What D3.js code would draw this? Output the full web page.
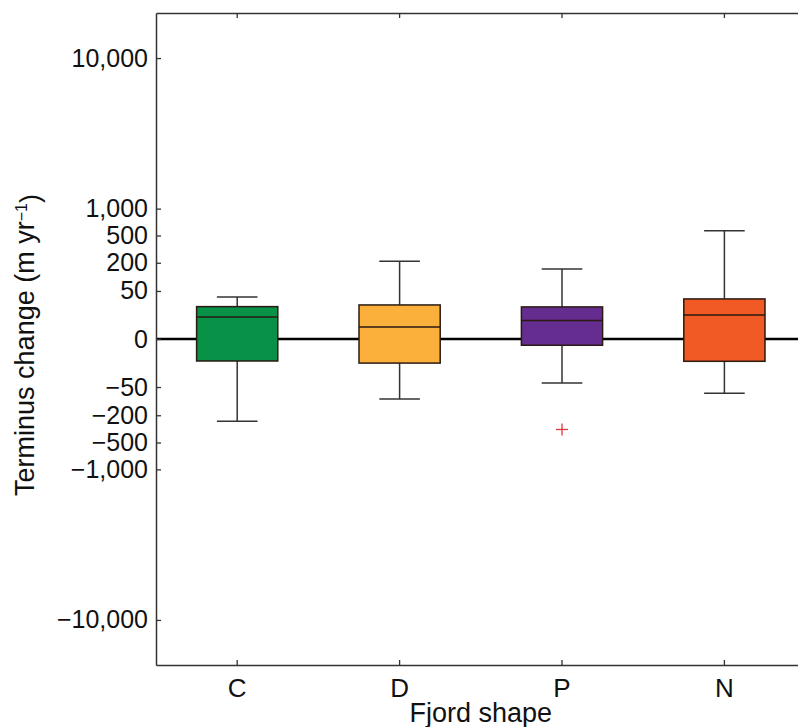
<!DOCTYPE html>
<html>
<head>
<meta charset="utf-8">
<script src="https://cdn.jsdelivr.net/npm/d3@7"></script>
<style>
  html, body { margin: 0; padding: 0; background: #fff; }
  svg { display: block; }
  text { font-family: "Liberation Sans", Arial, Helvetica, sans-serif; fill: #111; }
</style>
</head>
<body>
<svg id="chart" width="798" height="727"></svg>
<script>
// ---- data ----
const categories   = ["C", "D", "P", "N"];
const whiskerLow   = [-252, -98, -38.6, -72.5];
const q1           = [-4.8, -6.3, -0.11, -5.0];
const medians      = [4.8, 0.78, 2.8, 6.3];
const q3           = [15.3, 17.8, 14.9, 29];
const whiskerHigh  = [33.6, 212, 155, 571];
const boxColors    = ["#079247", "#fbb03b", "#662d91", "#f15a24"];
const outlierCats  = ["P"];
const outlierVals  = [-334];
const yTickValues  = [10000, 1000, 500, 200, 50, 0, -50, -200, -500, -1000, -10000];
const yTickLabels  = ["10,000", "1,000", "500", "200", "50", "0", "\u221250", "\u2212200", "\u2212500", "\u22121,000", "\u221210,000"];
const yDomain      = [-15625, 15625];

// ---- layout ----
const svg = d3.select("#chart");
const mLeft = 156, mTop = 13, mBottom = 665, plotW = 649.6;
const mRight = mLeft + plotW;

const x = d3.scaleBand().domain(categories).range([mLeft, mRight]).paddingInner(0).paddingOuter(0);
const y = d3.scalePow().exponent(1 / 3).domain(yDomain).range([mBottom, mTop]);
const cx = c => x(c) + x.bandwidth() / 2;
const boxW = x.bandwidth() * 0.5;
const capW = boxW * 0.5;

const axisColor = "#333";

// zero reference line
svg.append("line")
  .attr("x1", mLeft).attr("x2", mRight)
  .attr("y1", y(0)).attr("y2", y(0))
  .attr("stroke", "#000").attr("stroke-width", 2.5);

// boxes
const rows = categories.map((c, i) => ({
  c, lo: whiskerLow[i], q1: q1[i], med: medians[i], q3: q3[i], hi: whiskerHigh[i], color: boxColors[i]
}));

const g = svg.append("g").selectAll("g").data(rows).join("g");

// whiskers
g.append("line")
  .attr("x1", d => cx(d.c)).attr("x2", d => cx(d.c))
  .attr("y1", d => y(d.q3)).attr("y2", d => y(d.hi))
  .attr("stroke", "#333").attr("stroke-width", 1.5);
g.append("line")
  .attr("x1", d => cx(d.c)).attr("x2", d => cx(d.c))
  .attr("y1", d => y(d.q1)).attr("y2", d => y(d.lo))
  .attr("stroke", "#333").attr("stroke-width", 1.5);
// caps
g.append("line")
  .attr("x1", d => cx(d.c) - capW / 2).attr("x2", d => cx(d.c) + capW / 2)
  .attr("y1", d => y(d.hi)).attr("y2", d => y(d.hi))
  .attr("stroke", "#333").attr("stroke-width", 1.5);
g.append("line")
  .attr("x1", d => cx(d.c) - capW / 2).attr("x2", d => cx(d.c) + capW / 2)
  .attr("y1", d => y(d.lo)).attr("y2", d => y(d.lo))
  .attr("stroke", "#333").attr("stroke-width", 1.5);
// box
g.append("rect")
  .attr("x", d => cx(d.c) - boxW / 2).attr("width", boxW)
  .attr("y", d => y(d.q3)).attr("height", d => y(d.q1) - y(d.q3))
  .attr("fill", d => d.color).attr("stroke", "#2a1a12").attr("stroke-width", 1.5);
// median
g.append("line")
  .attr("x1", d => cx(d.c) - boxW / 2).attr("x2", d => cx(d.c) + boxW / 2)
  .attr("y1", d => y(d.med)).attr("y2", d => y(d.med))
  .attr("stroke", "#2a1a12").attr("stroke-width", 1.5);

// outliers
const outs = outlierCats.map((c, i) => ({ c, v: outlierVals[i] }));
const og = svg.append("g").selectAll("g").data(outs).join("g")
  .attr("transform", d => `translate(${cx(d.c)},${y(d.v)})`);
og.append("line").attr("x1", -6).attr("x2", 6).attr("y1", 0).attr("y2", 0)
  .attr("stroke", "#e0363c").attr("stroke-width", 1.3);
og.append("line").attr("x1", 0).attr("x2", 0).attr("y1", -6).attr("y2", 6)
  .attr("stroke", "#e0363c").attr("stroke-width", 1.3);

// ---- axes ----
const yAxis = d3.axisLeft(y).tickValues(yTickValues)
  .tickFormat((d, i) => yTickLabels[i]).tickSizeInner(-5).tickSizeOuter(0).tickPadding(8);
const gy = svg.append("g").attr("transform", `translate(${mLeft},0)`).call(yAxis);
gy.selectAll("text").style("font-size", "25px").attr("fill", "#111");

const xAxis = d3.axisBottom(x).tickSizeInner(-5).tickSizeOuter(0).tickPadding(14);
const gx = svg.append("g").attr("transform", `translate(0,${mBottom})`).call(xAxis);
gx.selectAll("text").style("font-size", "26px").attr("fill", "#111");

const xTop = d3.axisTop(x).tickSizeInner(-5).tickSizeOuter(0).tickFormat("");
svg.append("g").attr("transform", `translate(0,${mTop})`).call(xTop);

svg.selectAll(".tick line").attr("stroke", axisColor).attr("stroke-width", 1.3);
svg.selectAll("path.domain").attr("stroke", axisColor).attr("stroke-width", 1.5);

// right border (outside the visible area)
svg.append("line").attr("x1", mRight).attr("x2", mRight).attr("y1", mTop).attr("y2", mBottom)
  .attr("stroke", axisColor).attr("stroke-width", 1.5);

// ---- titles ----
svg.append("text")
  .attr("x", (mLeft + mRight) / 2).attr("y", 722)
  .attr("text-anchor", "middle").style("font-size", "27px")
  .text("Fjord shape");

const yt = svg.append("text")
  .attr("transform", `translate(34,345) rotate(-90)`)
  .attr("text-anchor", "middle").style("font-size", "27px");
yt.append("tspan").text("Terminus change (m yr");
yt.append("tspan").attr("dy", "-0.45em").style("font-size", "16px").text("\u22121");
yt.append("tspan").attr("dy", "0.45em").text(")");
</script>
</body>
</html>
